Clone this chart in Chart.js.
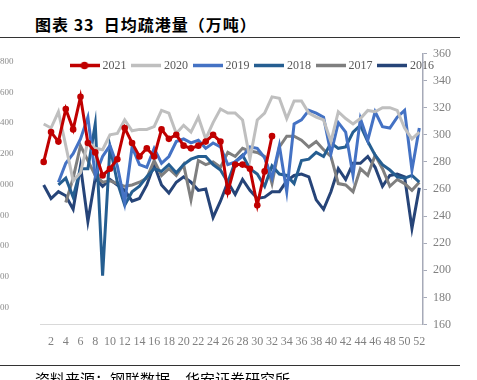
<!DOCTYPE html>
<html>
<head>
<meta charset="utf-8">
<script src="https://cdn.jsdelivr.net/npm/chart.js@4.4.1/dist/chart.umd.min.js"></script>
<style>
  body { margin: 0; width: 477px; height: 380px; overflow: hidden; background: #fff; position: relative; font-family: "Noto Sans CJK SC", sans-serif; }
  #title { position: absolute; left: 35px; top: 12px; font-size: 16px; font-weight: bold; color: #000; white-space: nowrap; line-height: 24px; letter-spacing: 1px; }
  .rule { position: absolute; left: 0; width: 460px; height: 1px; background: #333; }
  #src { position: absolute; left: 35px; top: 369px; font-size: 15px; color: #000; white-space: nowrap; line-height: 20px; }
  #box { position: absolute; left: -14px; top: 23.5px; width: 491px; height: 345.5px; }
</style>
</head>
<body>
<div id="title">图表 33&nbsp;&nbsp;日均疏港量（万吨）</div>
<div class="rule" style="top:37px"></div>
<div id="box"><canvas id="myChart"></canvas></div>
<div class="rule" style="top:365px"></div>
<div id="src">资料来源：钢联数据，华安证券研究所</div>
<script>
// week numbers on the x axis
const weeks = [];
for (let w = 1; w <= 52; w++) weeks.push(String(w));

// left axis labels (cut off at the page edge in the source)
const leftTicks = [200, 400, 600, 800, 1000, 1200, 1400, 1600, 1800];
// right axis labels
const rightTicks = [160, 180, 200, 220, 240, 260, 280, 300, 320, 340, 360];

// daily port clearance, 10k tonnes, by week (null = no data)
const y2021 = [280, 302, 295, 319, 304, 328, 294, 287, 270, 275, 282, 305, 294, 284, 290, 284,
               304, 297, 300, 292, 290, 292, 295, 300, 295, 258, 278, 278, 275, 248, 273, 299];
const y2020 = [308, 305, 317, 292, 266, 272, 295, 290, 289, 300, 301, 311, 303, 304, 304, 306,
               318, 316, 301, 307, 302, 313, 297, 309, 319, 316, 316, 311, 282, 311, 316, 328,
               327, 312, 325, 325, 316, 313, 311, 295, 317, 312, 308, 312, 318, 317, 320, 320,
               318, 305, 297, 302];
const y2019 = [null, null, 265, 279, 286, 297, 313, 270, 284, 292, 277, 250, 291, 278, 276, 290,
               279, 284, 295, 297, 294, 296, 290, 294, 291, 278, 280, 284, 291, 290, 283, 268,
               292, 258, 308, 311, 318, 316, 313, 286, 309, 302, 270, 312, 296, 317, 306, 305,
               313, 318, 274, 305];
const y2018 = [null, null, 263, 268, 254, 275, 275, 308, 196, 291, 265, 248, 258, 262, 269, 275,
               273, 278, 272, 278, 282, 284, 284, 278, 274, 265, 280, 285, 275, 271, 262, 277,
               271, 270, 264, 281, 282, 287, 284, 294, 290, 291, 302, 307, 295, 285, 278, 274,
               269, 268, 270, 265];
const y2017 = [null, null, null, 250, 268, 292, 281, 270, 265, 266, 264, 262, 263, 265, 268, 281,
               270, 275, 270, 278, 252, 281, 278, 280, 276, 287, 284, 290, 288, 287, 284, 264,
               291, 299, 299, 296, 291, 295, 289, 284, 264, 263, 258, 275, 270, 285, 275, 262,
               267, 264, 259, 265];
const y2016 = [263, 253, 258, 255, 245, 277, 236, 268, 262, 267, 263, 259, 251, 253, 263, 278,
               263, 257, 265, 269, 265, 259, 260, 239, 251, 265, 256, 267, 259, 253, 254, 258,
               258, 266, 270, 271, 269, 252, 245, 258, 275, 267, 279, 279, 284, 276, 262, 270,
               271, 269, 231, 261];

const seriesNames = ['2021', '2020', '2019', '2018', '2017', '2016'];
const seriesData = [y2021, y2020, y2019, y2018, y2017, y2016];
const colors = ['#C00000', '#BFBFBF', '#4472C4', '#255E91', '#7F7F7F', '#264478'];

// legend icons: short thick line, the 2021 one with a dot
function makeIcon(color, dot) {
  const c = document.createElement('canvas');
  c.width = 30; c.height = 9;
  const g = c.getContext('2d');
  g.strokeStyle = color; g.lineWidth = 3.5;
  g.beginPath(); g.moveTo(0, 4.5); g.lineTo(30, 4.5); g.stroke();
  if (dot) {
    g.fillStyle = color;
    g.beginPath(); g.arc(15, 4.5, 3.8, 0, Math.PI * 2); g.fill();
  }
  return c;
}
const icons = colors.map((c, i) => makeIcon(c, i === 0));

// move the legend down into the plot area
const legendInside = {
  id: 'legendInside',
  afterLayout(chart) {
    const lg = chart.legend;
    const pad = lg.options.labels.padding;
    const newTop = chart.chartArea.top + 12 - pad - 6;
    const dy = newTop - lg.top;
    lg.top += dy; lg.bottom += dy;
    lg.left += 17; lg.right += 17;
  }
};

Chart.defaults.font.family = "'Liberation Serif', 'Times New Roman', serif";
Chart.defaults.font.size = 12;
Chart.defaults.color = '#808080';

const ctx = document.getElementById('myChart').getContext('2d');
const myChart = new Chart(ctx, {
  type: 'line',
  data: {
    labels: weeks,
    datasets: seriesNames.map((name, i) => ({
      label: name,
      data: seriesData[i],
      yAxisID: 'yR',
      borderColor: colors[i],
      backgroundColor: colors[i],
      borderWidth: 3,
      pointRadius: i === 0 ? 3.3 : 0,
      pointBorderWidth: 0,
      pointBackgroundColor: colors[i],
      tension: 0,
      fill: false
    }))
  },
  options: {
    responsive: true,
    maintainAspectRatio: false,
    animation: false,
    layout: { padding: { top: 0, bottom: 10.6, left: 9.5, right: 0 } },
    plugins: {
      tooltip: { enabled: false },
      legend: {
        position: 'top',
        labels: {
          usePointStyle: true,
          pointStyleWidth: 24,
          padding: 7.5,
          color: '#595959',
          font: { size: 12 },
          generateLabels(chart) {
            const items = Chart.defaults.plugins.legend.labels.generateLabels(chart);
            items.forEach(it => { it.pointStyle = icons[it.datasetIndex]; });
            return items;
          }
        }
      }
    },
    scales: {
      x: {
        offset: true,
        grid: { display: false, drawTicks: false },
        border: { display: true, color: '#D9D9D9', width: 1 },
        ticks: {
          autoSkip: false,
          maxRotation: 0,
          minRotation: 0,
          padding: 10,
          callback: function (val, idx) {
            return (idx + 1) % 2 === 0 ? this.getLabelForValue(val) : '';
          }
        }
      },
      yL: {
        position: 'left',
        min: 90,
        max: 1852,
        grid: { display: false, drawTicks: false },
        border: { display: false },
        ticks: {
          crossAlign: 'far',
          font: { size: 9 },
          color: '#8c8c8c',
          callback: v => String(v)
        },
        afterBuildTicks(scale) { scale.ticks = leftTicks.map(v => ({ value: v })); },
        afterFit(scale) { scale.width = 44.5; }
      },
      yR: {
        position: 'right',
        min: 160,
        max: 360,
        grid: { drawOnChartArea: false, drawTicks: true, tickLength: 4, color: '#A6AAB8' },
        border: { display: true, color: '#A6AAB8', width: 1.5 },
        ticks: { padding: 6 },
        afterBuildTicks(scale) { scale.ticks = rightTicks.map(v => ({ value: v })); },
        afterFit(scale) { scale.width = 54; }
      }
    }
  },
  plugins: [legendInside]
});
</script>
</body>
</html>
